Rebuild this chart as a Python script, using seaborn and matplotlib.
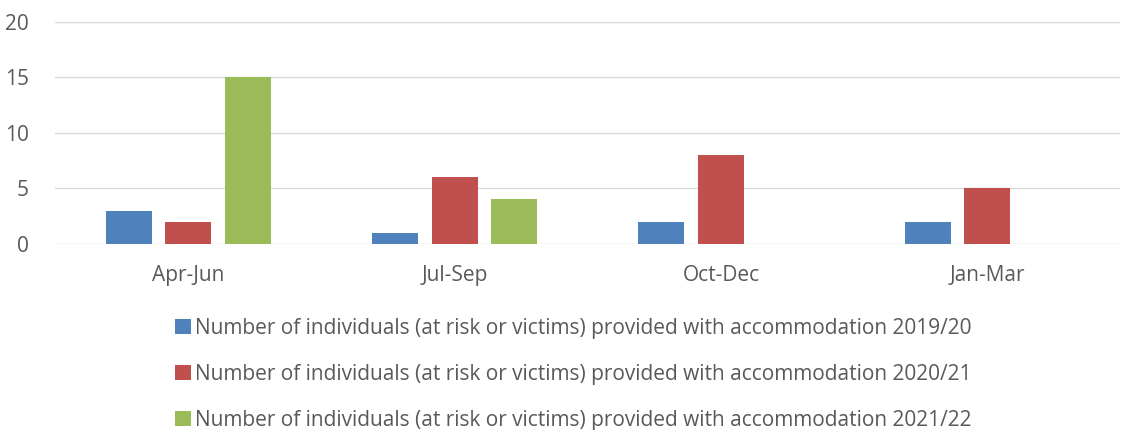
import numpy as np
import pandas as pd
import matplotlib
matplotlib.use("Agg")
import matplotlib.pyplot as plt
import seaborn as sns

# Quarters and values
quarters = ["Apr-Jun", "Jul-Sep", "Oct-Dec", "Jan-Mar"]
years = ["2019/20", "2020/21", "2021/22"]
vals_2019 = [3, 1, 2, 2]
vals_2020 = [2, 6, 8, 5]
vals_2021 = [15, 4, np.nan, np.nan]

label = "Number of individuals (at risk or victims) provided with accommodation "
series = [label + y for y in years]
colors = ["#4F81BD", "#C0504D", "#9BBB59"]

df = pd.DataFrame({
    "Quarter": quarters * 3,
    "Series": [series[0]] * 4 + [series[1]] * 4 + [series[2]] * 4,
    "Value": vals_2019 + vals_2020 + vals_2021,
})

sns.set_style("white")
plt.rcParams["font.family"] = ["Open Sans", "DejaVu Sans"]

fig = plt.figure(figsize=(11.27, 4.30), dpi=100)
ax = fig.add_axes([0.049, 0.433, 0.945, 0.516])

sns.barplot(data=df, x="Quarter", y="Value", hue="Series", order=quarters,
            hue_order=series, palette=colors, width=0.67, gap=0.225,
            saturation=1, linewidth=0, ax=ax, legend=True)

ax.set_ylim(0, 20)
ax.set_yticks([0, 5, 10, 15, 20])
ax.yaxis.grid(True, color="#D9D9D9", linewidth=1)
ax.set_axisbelow(True)
for s in ax.spines.values():
    s.set_visible(False)
ax.tick_params(axis="x", length=0, labelsize=15, colors="#595959", pad=15)
ax.tick_params(axis="y", length=0, labelsize=15, colors="#595959", pad=19)
ax.set_xlabel("")
ax.set_ylabel("")

handles, labels = ax.get_legend_handles_labels()
ax.get_legend().remove()
fig.legend(handles, labels, loc="upper center", bbox_to_anchor=(0.509, 0.28),
           ncol=1, frameon=False, fontsize=15, labelcolor="#595959",
           handlelength=0.75, handleheight=0.75, handletextpad=0.2,
           labelspacing=1.2, borderaxespad=0)

fig.savefig("out.png", dpi=100)
